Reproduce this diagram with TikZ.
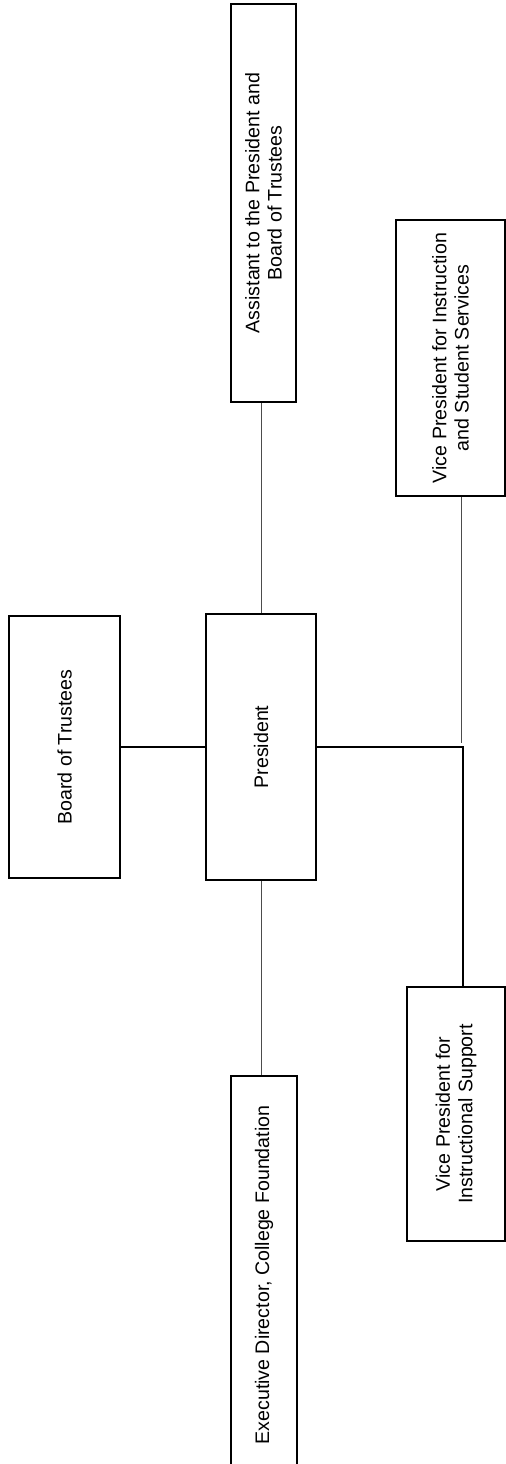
\documentclass[tikz,border=0pt]{standalone}
\usepackage{fontspec}
\setmainfont{Liberation Sans}

\begin{document}
\begin{tikzpicture}[x=0.5pt, y=-0.5pt,
  post/.style={draw, line width=0.9pt, rotate=90, align=center, inner sep=0pt, font=\fontsize{9.8}{11.2}\selectfont},
  link/.style={line width=0.6pt},
  faint/.style={line width=0.5pt, black!70}
]
\clip (0,0) rectangle (506,1464);

% rotated boxes: east = top of page, west = bottom of page
\node[post, minimum width=131pt, minimum height=55.5pt] (board) at (64.5,747) {Board of Trustees};
\node[post, minimum width=133pt, minimum height=55pt] (pres) at (261,747) {President};
\node[post, minimum width=199pt, minimum height=32.5pt] (asst) at (263.5,203) {Assistant to the President and\\Board of Trustees};
\node[post, minimum width=199pt, minimum height=33pt] (exec) at (264,1275) {Executive Director, College Foundation};
\node[post, minimum width=138pt, minimum height=54.5pt] (vpis) at (450.5,358) {Vice President for Instruction\\and Student Services};
\node[post, minimum width=127pt, minimum height=49pt] (vpsup) at (456,1114) {Vice President for\\Instructional Support};

\coordinate (jn) at (463,747);
\coordinate (jt) at (461,743);

\draw[link] (board) -- (pres);
\draw[faint] (pres.east) -- (pres.east |- asst.west);
\draw[faint] (pres.west) -- (pres.west |- exec.east);
\draw[link] (pres) -- (jn) -- (jn |- vpsup.east);
\draw[faint] (vpis.west -| jt) -- (jt);

\end{tikzpicture}
\end{document}
